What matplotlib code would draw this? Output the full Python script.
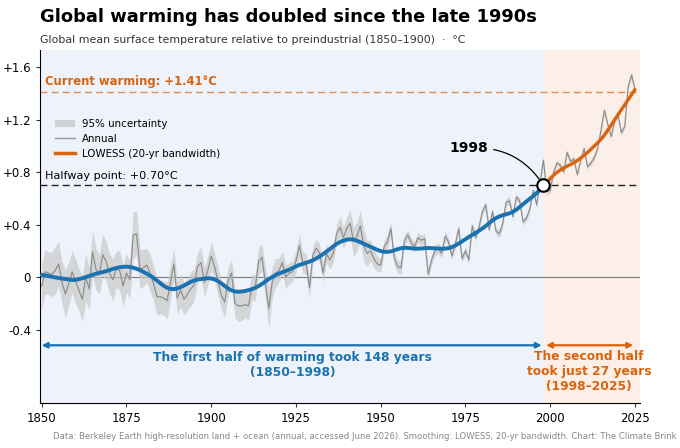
import numpy as np
import matplotlib
matplotlib.use("Agg")
import matplotlib.pyplot as plt
from matplotlib.patches import Patch
from matplotlib.lines import Line2D

# annual anomalies vs 1850-1900 (degC)
years = np.arange(1850, 2026)
annual = [
    -0.07, 0.04, 0.03, 0.02, 0.05, 0.10, -0.04, -0.13, -0.05, 0.04,   # 1850s
    -0.03, -0.10, -0.17, 0.00, -0.09, 0.19, 0.06, 0.02, 0.17, 0.12,   # 1860s
    0.03, -0.02, 0.06, 0.05, -0.07, 0.03, -0.02, 0.32, 0.33, 0.06,    # 1870s
    0.07, 0.09, 0.03, -0.05, -0.15, -0.15, -0.16, -0.18, -0.04, 0.10, # 1880s
    -0.16, -0.10, -0.17, -0.13, -0.09, -0.06, 0.08, 0.11, -0.04, 0.05, # 1890s
    0.16, 0.08, -0.03, -0.14, -0.19, -0.03, 0.03, -0.20, -0.22, -0.22, # 1900s
    -0.21, -0.22, -0.08, -0.08, 0.12, 0.15, -0.05, -0.24, -0.04, 0.03, # 1910s
    0.05, 0.11, 0.00, 0.03, 0.04, 0.12, 0.24, 0.11, 0.10, -0.08,     # 1920s
    0.17, 0.22, 0.18, 0.03, 0.18, 0.13, 0.18, 0.33, 0.38, 0.30,      # 1930s
    0.37, 0.41, 0.27, 0.31, 0.39, 0.24, 0.18, 0.20, 0.14, 0.10,      # 1940s
    0.09, 0.23, 0.27, 0.37, 0.14, 0.08, 0.07, 0.28, 0.32, 0.26,      # 1950s
    0.23, 0.30, 0.28, 0.29, 0.02, 0.13, 0.20, 0.22, 0.18, 0.31,      # 1960s
    0.27, 0.16, 0.25, 0.37, 0.14, 0.20, 0.13, 0.39, 0.30, 0.38,      # 1970s
    0.50, 0.55, 0.36, 0.50, 0.35, 0.33, 0.41, 0.57, 0.58, 0.46,      # 1980s
    0.61, 0.58, 0.42, 0.45, 0.52, 0.66, 0.55, 0.72, 0.89, 0.65,      # 1990s
    0.66, 0.80, 0.87, 0.85, 0.80, 0.95, 0.88, 0.90, 0.78, 0.89,      # 2000s
    0.98, 0.84, 0.87, 0.91, 0.98, 1.12, 1.27, 1.16, 1.07, 1.19,      # 2010s
    1.24, 1.10, 1.15, 1.45, 1.54, 1.43,                              # 2020s
]
# half-width of the 95% band
unc = [
    0.17, 0.17, 0.16, 0.17, 0.18, 0.17, 0.16, 0.18, 0.17, 0.16,
    0.17, 0.16, 0.17, 0.18, 0.16, 0.17, 0.16, 0.15, 0.16, 0.15,
    0.15, 0.16, 0.14, 0.15, 0.16, 0.15, 0.14, 0.18, 0.17, 0.15,
    0.14, 0.13, 0.14, 0.13, 0.14, 0.13, 0.13, 0.14, 0.13, 0.12,
    0.12, 0.13, 0.12, 0.12, 0.13, 0.12, 0.11, 0.12, 0.11, 0.11,
    0.11, 0.10, 0.11, 0.10, 0.12, 0.11, 0.10, 0.11, 0.12, 0.11,
    0.10, 0.11, 0.10, 0.10, 0.11, 0.10, 0.12, 0.15, 0.12, 0.11,
    0.09, 0.09, 0.09, 0.08, 0.08, 0.08, 0.09, 0.08, 0.08, 0.08,
    0.07, 0.07, 0.07, 0.07, 0.07, 0.07, 0.07, 0.07, 0.08, 0.08,
    0.09, 0.10, 0.11, 0.11, 0.12, 0.12, 0.10, 0.08, 0.07, 0.06,
    0.05, 0.05, 0.05, 0.05, 0.05, 0.05, 0.05, 0.04, 0.04, 0.04,
    0.04, 0.04, 0.04, 0.04, 0.04, 0.04, 0.04, 0.04, 0.04, 0.04,
    0.03, 0.03, 0.03, 0.03, 0.03, 0.03, 0.03, 0.03, 0.03, 0.03,
    0.03, 0.03, 0.03, 0.03, 0.03, 0.03, 0.03, 0.03, 0.03, 0.03,
    0.025, 0.025, 0.025, 0.025, 0.025, 0.025, 0.025, 0.025, 0.025, 0.025,
    0.02, 0.02, 0.02, 0.02, 0.02, 0.02, 0.02, 0.02, 0.02, 0.02,
    0.02, 0.02, 0.02, 0.02, 0.02, 0.02, 0.02, 0.02, 0.02, 0.02,
    0.02, 0.02, 0.02, 0.02, 0.02, 0.02,
]
halfway_year = 1998
halfway_val = 0.70
current_val = 1.41
yticks = [-0.4, 0, 0.4, 0.8, 1.2, 1.6]
ytick_labels = ["-0.4", "0", "+0.4", "+0.8", "+1.2", "+1.6"]
xticks = [1850, 1875, 1900, 1925, 1950, 1975, 2000, 2025]

BLUE = "#1a72b0"
ORANGE = "#d8640f"


def lowess(x, y, npts=20):
    '''
    local linear fit with tricube weights over the npts nearest years
    '''
    out = np.empty(len(x))
    for i, x0 in enumerate(x):
        d = np.abs(x - x0)
        h = np.sort(d)[npts - 1] + 1e-9
        w = np.clip(1 - (d / h) ** 3, 0, None) ** 3
        W = np.sum(w)
        xm = np.sum(w * x) / W
        ym = np.sum(w * y) / W
        b = np.sum(w * (x - xm) * (y - ym)) / np.sum(w * (x - xm) ** 2)
        out[i] = ym + b * (x0 - xm)
    return out


annual = np.array(annual)
unc = np.array(unc)
smooth = lowess(years.astype(float), annual)

fig = plt.figure(figsize=(6.8, 4.48), dpi=100)
ax = fig.add_axes([0.0588, 0.1004, 0.8824, 0.788])
x0, x1 = 1849.5, 2026.5
ax.set_xlim(x0, x1)
ax.set_ylim(-0.96, 1.73)

ax.axvspan(x0, halfway_year, color="#eef2fa", zorder=0, lw=0)
ax.axvspan(halfway_year, x1, color="#fcefe7", zorder=0, lw=0)

ax.axhline(0, color="#777777", lw=0.8, zorder=1)
ax.axhline(halfway_val, color="#222222", lw=1.0, ls=(0, (5, 3)), zorder=1)
ax.axhline(current_val, color=ORANGE, lw=1.0, ls=(0, (5, 3)), alpha=0.7, zorder=1)

ax.fill_between(years, annual - unc, annual + unc, color="#c9c9c9", alpha=0.7, lw=0, zorder=2)
ax.plot(years, annual, color="#8c8c8c", lw=0.85, zorder=3)

early = years <= halfway_year
late = years >= halfway_year
ax.plot(years[early], smooth[early], color=BLUE, lw=2.8, zorder=4, solid_capstyle="round")
ax.plot(years[late], smooth[late], color=ORANGE, lw=2.4, zorder=4, solid_capstyle="round")
ax.plot([halfway_year], [halfway_val], "o", ms=9, mfc="white", mec="black", mew=1.5, zorder=6)

ax.annotate("1998", xy=(halfway_year, halfway_val), xytext=(1976, 0.98),
            fontsize=10, fontweight="bold", ha="center", va="center",
            arrowprops=dict(arrowstyle="-", color="black", lw=0.9,
                            shrinkA=2, shrinkB=5,
                            connectionstyle="arc3,rad=-0.3"), zorder=7)

ax.text(1851, current_val + 0.03, "Current warming: +1.41°C", color=ORANGE,
        fontsize=8.4, fontweight="bold", va="bottom")
ax.text(1851, halfway_val + 0.03, "Halfway point: +0.70°C", color="black",
        fontsize=8.1, va="bottom")

# bottom spans
ax.annotate("", xy=(1850, -0.52), xytext=(halfway_year - 0.5, -0.52),
            arrowprops=dict(arrowstyle="<|-|>", color=BLUE, lw=1.6, mutation_scale=8,
                            shrinkA=0, shrinkB=0))
ax.annotate("", xy=(halfway_year + 0.8, -0.52), xytext=(2024.5, -0.52),
            arrowprops=dict(arrowstyle="<|-|>", color=ORANGE, lw=1.6, mutation_scale=8,
                            shrinkA=0, shrinkB=0))
ax.text((1850 + halfway_year) / 2, -0.67, "The first half of warming took 148 years\n(1850–1998)",
        color=BLUE, fontsize=8.8, fontweight="bold", ha="center", va="center", linespacing=1.2)
ax.text((halfway_year + 2025) / 2, -0.72, "The second half\ntook just 27 years\n(1998–2025)",
        color=ORANGE, fontsize=8.8, fontweight="bold", ha="center", va="center", linespacing=1.2)

ax.set_yticks(yticks)
ax.set_yticklabels(ytick_labels)
ax.set_xticks(xticks)
ax.tick_params(labelsize=8.5, length=3, color="#333333")
for s in ["top", "right"]:
    ax.spines[s].set_visible(False)

handles = [Patch(facecolor="#cfd1d4", edgecolor="none"),
           Line2D([], [], color="#999999", lw=1),
           Line2D([], [], color=ORANGE, lw=2.5)]
ax.legend(handles, ["95% uncertainty", "Annual", "LOWESS (20-yr bandwidth)"],
          loc="upper left", bbox_to_anchor=(0.01, 0.83), frameon=False, fontsize=7.4,
          handlelength=1.9, handletextpad=0.7, labelspacing=0.45)

fig.text(0.0588, 0.962, "Global warming has doubled since the late 1990s",
         fontsize=12.9, fontweight="bold", va="center")
fig.text(0.0588, 0.911, "Global mean surface temperature relative to preindustrial (1850–1900)  ·  °C",
         fontsize=7.9, color="#333333", va="center")
fig.text(0.995, 0.025, "Data: Berkeley Earth high-resolution land + ocean (annual, accessed June 2026). "
         "Smoothing: LOWESS, 20-yr bandwidth. Chart: The Climate Brink",
         fontsize=6.1, color="#888888", ha="right", va="center")

fig.savefig("out.png", dpi=100)
